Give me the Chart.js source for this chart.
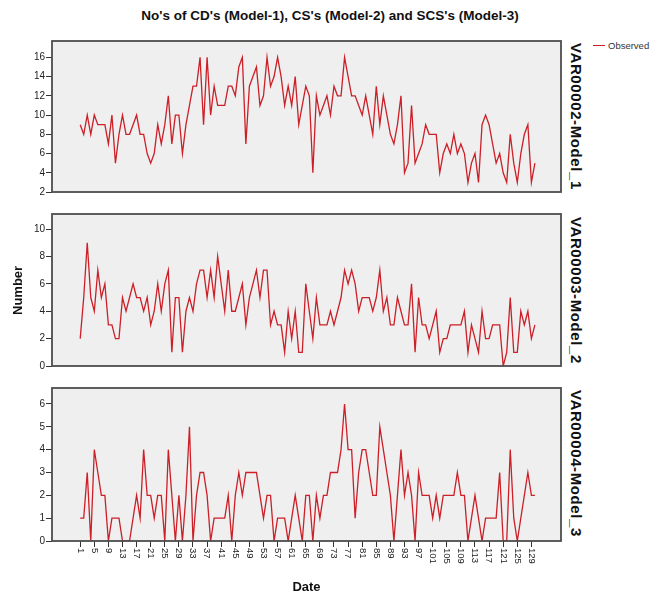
<!DOCTYPE html>
<html>
<head>
<meta charset="utf-8">
<script src="https://cdn.jsdelivr.net/npm/chart.js@4.4.0/dist/chart.umd.min.js"></script>
<style>
    body { margin: 0; background: #fff; font-family: "Liberation Sans", Arial, sans-serif; }
    #tela { position: relative; width: 659px; height: 596px; overflow: hidden; }
    .painel { position: absolute; left: 0; width: 566px; }
    .titulo { position: absolute; left: 0; top: 8px; width: 660px; text-align: center; font-weight: bold; font-size: 13.5px; color: #111; }
    .rotulo__dir { position: absolute; left: 568px; width: 17px; line-height: 17px; writing-mode: vertical-rl; text-align: center; font-weight: bold; font-size: 15px; letter-spacing: 0.6px; color: #111; }
    .eixo__y { position: absolute; left: 10px; top: 39px; height: 502px; width: 16px; line-height: 16px; writing-mode: vertical-rl; transform: rotate(180deg); text-align: center; font-weight: bold; font-size: 13px; color: #111; }
    .eixo__x { position: absolute; left: 52px; top: 579px; width: 509px; text-align: center; font-weight: bold; font-size: 13px; color: #111; }
    .legenda__linha { position: absolute; left: 593px; top: 45px; width: 12px; height: 1px; background: #cc1f27; }
    .legenda__texto { position: absolute; left: 608px; top: 40px; font-size: 9.5px; color: #333; }
</style>
</head>
<body>
<div id="tela">
    <div class="titulo">No's of CD's (Model-1), CS's (Model-2) and SCS's (Model-3)</div>

    <div class="painel" style="top:34px;height:165px"><canvas id="modelo1"></canvas></div>
    <div class="painel" style="top:207px;height:166px"><canvas id="modelo2"></canvas></div>
    <div class="painel" style="top:381px;height:205px"><canvas id="modelo3"></canvas></div>

    <div class="rotulo__dir" style="top:39px;height:155px">VAR00002-Model_1</div>
    <div class="rotulo__dir" style="top:212px;height:156px">VAR00003-Model_2</div>
    <div class="rotulo__dir" style="top:386px;height:155px">VAR00004-Model_3</div>

    <div class="eixo__y">Number</div>
    <div class="eixo__x">Date</div>

    <div class="legenda__linha"></div>
    <div class="legenda__texto">Observed</div>
</div>

<script>
// valores (130 dias)
var cd_model1 = [9, 8, 10, 8, 10, 9, 9, 9, 7, 10,
    5, 8, 10, 8, 8, 9, 10, 8, 8, 6,
    5, 6, 9, 7, 9, 12, 7, 10, 10, 6,
    9, 11, 13, 13, 16, 9, 16, 10, 13, 11,
    11, 11, 13, 13, 12, 15, 16, 7, 13, 14,
    15, 11, 12, 16, 13, 14, 16, 14, 11, 13,
    11, 14, 9, 11, 13, 12, 4, 12, 10, 11,
    12, 10, 13, 12, 12, 16, 14, 12, 12, 11,
    10, 12, 10, 8, 13, 9, 12, 10, 8, 7,
    9, 12, 4, 5, 11, 5, 6, 7, 9, 8,
    8, 8, 4, 6, 7, 6, 8, 6, 7, 6,
    3, 5, 6, 3, 9, 10, 9, 7, 5, 6,
    4, 3, 8, 5, 3, 6, 8, 9, 3, 5];

var cs_model2 = [2, 5, 9, 5, 4, 7, 5, 6, 3, 3,
    2, 2, 5, 4, 5, 6, 5, 5, 4, 5,
    3, 4, 6, 4, 6, 7, 1, 5, 5, 1,
    4, 5, 4, 6, 7, 7, 5, 7, 5, 8,
    6, 4, 7, 4, 4, 5, 6, 3, 5, 6,
    7, 5, 7, 7, 3, 4, 3, 3, 1, 4,
    2, 4, 1, 1, 6, 4, 2, 5, 3, 3,
    3, 4, 3, 4, 5, 7, 6, 7, 6, 4,
    5, 5, 5, 4, 5, 7, 4, 5, 3, 3,
    5, 4, 3, 3, 6, 1, 5, 3, 3, 2,
    3, 4, 1, 2, 2, 3, 3, 3, 3, 4,
    1, 3, 2, 1, 4, 2, 2, 3, 3, 3,
    0, 1, 5, 1, 1, 4, 3, 4, 2, 3];

var scs_model3 = [1, 1, 3, 0, 4, 3, 2, 2, 0, 1,
    1, 1, 0, 0, 0, 1, 2, 1, 4, 2,
    2, 1, 2, 2, 0, 4, 2, 0, 2, 0,
    2, 5, 0, 2, 3, 3, 2, 0, 1, 1,
    1, 1, 2, 0, 2, 3, 2, 3, 3, 3,
    3, 2, 1, 2, 2, 0, 1, 1, 1, 0,
    1, 2, 1, 0, 2, 2, 0, 2, 1, 2,
    2, 3, 3, 3, 4, 6, 4, 4, 1, 3,
    4, 4, 3, 2, 2, 5, 4, 3, 2, 0,
    2, 4, 2, 3, 2, 0, 3, 2, 2, 2,
    1, 2, 1, 2, 2, 2, 2, 3, 2, 2,
    0, 1, 2, 1, 0, 1, 1, 1, 1, 3,
    0, 0, 4, 1, 0, 1, 2, 3, 2, 2];

var ticksData = [1, 5, 9, 13, 17, 21, 25, 29, 33, 37, 41, 45, 49, 53, 57, 61, 65,
    69, 73, 77, 81, 85, 89, 93, 97, 101, 105, 109, 113, 117, 121, 125, 129];

var ticks1 = [2, 4, 6, 8, 10, 12, 14, 16];
var ticks2 = [0, 2, 4, 6, 8, 10];
var ticks3 = [0, 1, 2, 3, 4, 5, 6];

var corLinha = '#cc1f27';

// fundo cinza e moldura de cada painel
var moldura = {
    id: 'moldura',
    beforeDraw: function (chart) {
        var a = chart.chartArea, c = chart.ctx;
        c.save();
        c.fillStyle = '#efefef';
        c.fillRect(a.left, a.top, a.right - a.left, a.bottom - a.top);
        c.restore();
    },
    afterDraw: function (chart) {
        var a = chart.chartArea, c = chart.ctx;
        c.save();
        c.strokeStyle = '#4d4d4d';
        c.lineWidth = 1.8;
        c.strokeRect(a.left, a.top, a.right - a.left, a.bottom - a.top);
        c.restore();
    }
};

// rotulos do eixo x girados (leitura de cima para baixo)
var rotulosData = {
    id: 'rotulosData',
    afterDraw: function (chart) {
        var sx = chart.scales.x, c = chart.ctx;
        c.save();
        c.font = '9.5px "Liberation Sans", Arial, sans-serif';
        c.fillStyle = '#222';
        c.textAlign = 'left';
        c.textBaseline = 'middle';
        ticksData.forEach(function (v) {
            c.save();
            c.translate(sx.getPixelForValue(v), chart.chartArea.bottom + 7);
            c.rotate(Math.PI / 2);
            c.fillText(String(v), 0, 0);
            c.restore();
        });
        c.restore();
    }
};

function pontos(serie) {
    return serie.map(function (v, i) {
        return { x: i + 1, y: v };
    });
}

function criarPainel(id, serie, yMin, yMax, yTicks, comEixoX) {
    var ctx = document.getElementById(id);
    return new Chart(ctx, {
        type: 'line',
        data: {
            datasets: [{
                label: 'Observed',
                data: pontos(serie),
                borderColor: corLinha,
                borderWidth: 1.3,
                pointRadius: 0,
                tension: 0,
                fill: false
            }]
        },
        options: {
            responsive: true,
            maintainAspectRatio: false,
            animation: false,
            layout: { padding: { top: 5, right: 5, bottom: comEixoX ? 0 : 5, left: 0 } },
            plugins: { legend: { display: false }, tooltip: { enabled: false } },
            scales: {
                x: {
                    type: 'linear',
                    min: -7,
                    max: 137.4,
                    display: comEixoX,
                    afterBuildTicks: function (s) {
                        s.ticks = ticksData.map(function (v) { return { value: v }; });
                    },
                    afterFit: function (s) { s.height = comEixoX ? 45 : 0; },
                    ticks: { display: false },
                    border: { display: false },
                    grid: { drawOnChartArea: false, drawTicks: true, tickLength: 6, color: '#333' }
                },
                y: {
                    type: 'linear',
                    min: yMin,
                    max: yMax,
                    afterBuildTicks: function (s) {
                        s.ticks = yTicks.map(function (v) { return { value: v }; });
                    },
                    afterFit: function (s) { s.width = 52; },
                    ticks: {
                        color: '#222',
                        padding: 1,
                        font: { family: '"Liberation Sans", Arial, sans-serif', size: 10 }
                    },
                    border: { display: false },
                    grid: { drawOnChartArea: false, drawTicks: true, tickLength: 6, color: '#333' }
                }
            }
        },
        plugins: comEixoX ? [moldura, rotulosData] : [moldura]
    });
}

criarPainel('modelo1', cd_model1, 2, 17.7, ticks1, false);
criarPainel('modelo2', cs_model2, 0, 11.1, ticks2, false);
criarPainel('modelo3', scs_model3, 0, 6.7, ticks3, true);
</script>
</body>
</html>
